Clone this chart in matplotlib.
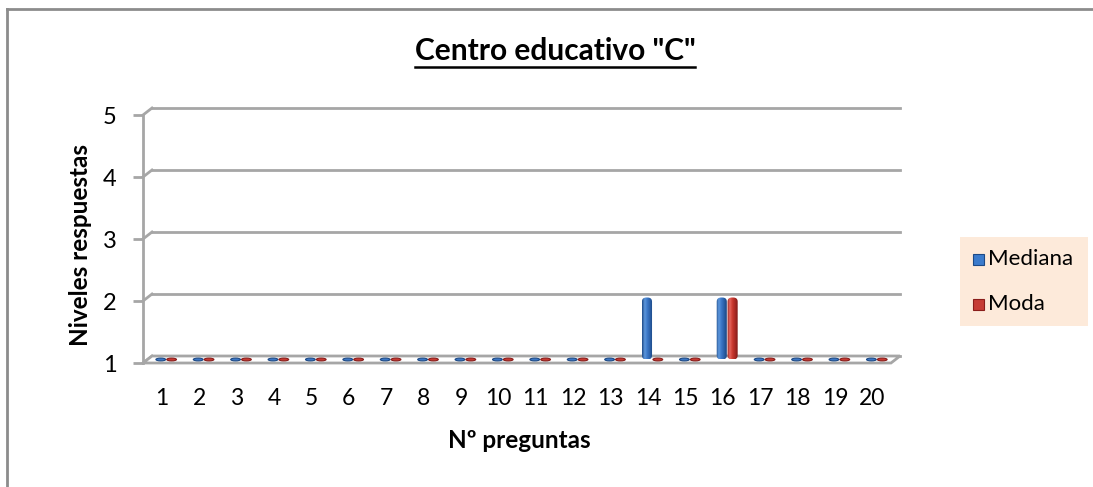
import numpy as np
import matplotlib
matplotlib.use("Agg")
import matplotlib.pyplot as plt
from matplotlib.patches import FancyBboxPatch, Ellipse, Polygon, Rectangle
from matplotlib.lines import Line2D

plt.rcParams['font.family'] = ['Lato', 'DejaVu Sans']

preguntas = list(range(1, 21))
mediana = [1, 1, 1, 1, 1, 1, 1, 1, 1, 1, 1, 1, 1, 2, 1, 2, 1, 1, 1, 1]
moda = [1, 1, 1, 1, 1, 1, 1, 1, 1, 1, 1, 1, 1, 1, 1, 2, 1, 1, 1, 1]
niveles = [1, 2, 3, 4, 5]

series = [("Mediana", mediana, ['#1d4a86', '#5d97dc', '#3a76c6', '#2a5fa6', '#1b4580'], '#3b7bcc'),
          ("Moda", moda, ['#8a1d1a', '#e5675f', '#c9382f', '#a82924', '#7e1a17'], '#c63c35')]

W, H = 1093, 487
fig = plt.figure(figsize=(W / 100, H / 100), dpi=100)
ax = fig.add_axes([143 / W, (H - 363) / H, 748 / W, 248 / H])
ax.set_xlim(0.5, 20.5)
ax.set_ylim(1, 5)

grid_c = '#a6a6a6'
# depth offset of the 3d box, in data units
ddx = 9 / 37.4
ddy = 7 / 62.0

# back wall gridlines and left wall connectors
for v in niveles:
    ax.plot([0.5 + ddx, 20.5 + ddx], [v + ddy, v + ddy], color=grid_c, lw=2, clip_on=False, zorder=1)
    ax.plot([0.5, 0.5 + ddx], [v, v + ddy], color=grid_c, lw=2, clip_on=False, zorder=1)

# floor
floor = Polygon([(0.5, 1), (20.5, 1), (20.5 + ddx, 1 + ddy), (0.5 + ddx, 1 + ddy)],
                closed=True, facecolor='white', edgecolor=grid_c, lw=2, clip_on=False, zorder=2)
ax.add_patch(floor)

# cylinders
bw = 0.29
for k, (name, vals, cols, _) in enumerate(series):
    cmap = matplotlib.colors.LinearSegmentedColormap.from_list(name, cols)
    grad = np.linspace(0, 1, 64).reshape(1, -1)
    for q, v in zip(preguntas, vals):
        xc = q + ddx / 2 - bw / 2 + k * bw
        y0 = 1 + ddy / 2
        if v > 1:
            patch = FancyBboxPatch((xc - bw / 2 + 0.01, y0), bw - 0.02, v - 1,
                                   boxstyle="round,pad=0,rounding_size=0.12",
                                   mutation_aspect=0.55, facecolor='none', edgecolor='none',
                                   zorder=4, clip_on=False)
            ax.add_patch(patch)
            im = ax.imshow(grad, cmap=cmap, extent=(xc - bw / 2, xc + bw / 2, y0, y0 + v - 1),
                           aspect='auto', zorder=4, interpolation='bilinear')
            im.set_clip_path(patch)
        else:
            e = Ellipse((xc, y0), bw * 0.9, 0.045, facecolor=cols[2], edgecolor=cols[0],
                        lw=0.8, zorder=4, clip_on=False)
            ax.add_patch(e)
ax.set_xlim(0.5, 20.5)
ax.set_ylim(1, 5)

for s in ['top', 'right', 'bottom']:
    ax.spines[s].set_visible(False)
ax.spines['left'].set_color(grid_c)
ax.spines['left'].set_linewidth(2)
ax.set_facecolor('none')

ax.set_yticks(niveles)
ax.set_yticklabels([str(n) for n in niveles], fontsize=17)
ax.tick_params(axis='y', length=7, width=2, color=grid_c, pad=12)
ax.set_xticks(preguntas)
ax.set_xticklabels([str(p) for p in preguntas], fontsize=16.5)
ax.tick_params(axis='x', length=0, pad=18)

fig.text(80 / W, 1 - 245 / H, 'Niveles respuestas', rotation=90, fontsize=17.5,
         fontweight='bold', ha='center', va='center')
fig.text(519 / W, 1 - 440 / H, 'Nº preguntas', fontsize=17.5, fontweight='bold',
         ha='center', va='center')

title = fig.text(555 / W, 1 - 51 / H, 'Centro educativo "C"', fontsize=21.5, fontweight='bold',
                 ha='center', va='center')

# legend box
fig.patches.append(Rectangle((960 / W, 1 - 326 / H), 128 / W, 89 / H, transform=fig.transFigure,
                             facecolor='#fdeada', edgecolor='none', zorder=0))
for k, (name, vals, cols, mc) in enumerate(series):
    yc = 1 - (259 + 45 * k) / H
    fig.patches.append(Rectangle((973 / W, yc - 5.5 / H), 11 / W, 11 / H, transform=fig.transFigure,
                                 facecolor=mc, edgecolor=cols[0], lw=0.8, zorder=1))
    fig.text(988 / W, yc, name, fontsize=16, ha='left', va='center')

# chart border (top and left)
fig.add_artist(Line2D([7 / W, 1], [1 - 9 / H, 1 - 9 / H], transform=fig.transFigure, color='#8c8c8c', lw=2))
fig.add_artist(Line2D([7 / W, 7 / W], [0, 1 - 9 / H], transform=fig.transFigure, color='#8c8c8c', lw=2))

# underline for the title
fig.canvas.draw()
bb = title.get_window_extent()
fig.add_artist(Line2D([bb.x0 / W, bb.x1 / W], [(bb.y0 - 2) / H, (bb.y0 - 2) / H],
                      transform=fig.transFigure, color='black', lw=1.8))

fig.savefig('out.png', dpi=100)
